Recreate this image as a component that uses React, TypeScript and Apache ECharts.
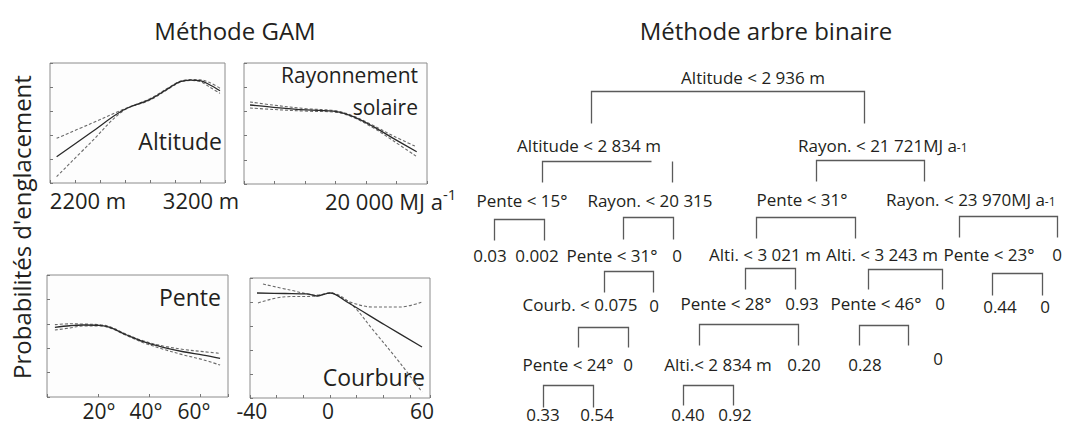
import React, { useEffect, useRef } from "react";
import * as echarts from "echarts";

// ---------- GAM panel data (x value, probability) ----------
const altitudeFit = [[2053,0.219],[2320,0.414],[2587,0.608],[2800,0.697],[2960,0.797],[3040,0.844],[3120,0.858],[3200,0.853],[3280,0.817],[3360,0.769]];
const altitudeUpper = [[2053,0.372],[2320,0.492],[2587,0.614],[2800,0.703],[2960,0.802],[3040,0.848],[3120,0.862],[3200,0.860],[3280,0.836],[3360,0.789]];
const altitudeLower = [[2053,0.053],[2320,0.331],[2587,0.603],[2800,0.691],[2960,0.792],[3040,0.840],[3120,0.854],[3200,0.846],[3280,0.797],[3360,0.747]];

const rayFit = [[10492,0.653],[12402,0.634],[15139,0.612],[17598,0.598],[18959,0.556],[20599,0.474],[22238,0.377],[24156,0.267]];
const rayUpper = [[10492,0.678],[12402,0.652],[15139,0.622],[17598,0.604],[18959,0.562],[20599,0.484],[22238,0.397],[24156,0.307]];
const rayLower = [[10492,0.628],[12402,0.616],[15139,0.602],[17598,0.592],[18959,0.550],[20599,0.464],[22238,0.357],[24156,0.227]];

const penteFit = [[3.1,0.571],[9.0,0.584],[14.2,0.590],[20.8,0.587],[24.7,0.571],[31.3,0.508],[37.8,0.453],[45.6,0.407],[53.5,0.371],[61.3,0.344],[67.9,0.317]];
const penteUpper = [[3.1,0.593],[9.0,0.600],[14.2,0.598],[20.8,0.592],[24.7,0.576],[31.3,0.513],[37.8,0.460],[45.6,0.418],[53.5,0.390],[61.3,0.372],[67.9,0.358]];
const penteLower = [[3.1,0.549],[9.0,0.566],[14.2,0.582],[20.8,0.582],[24.7,0.566],[31.3,0.503],[37.8,0.445],[45.6,0.392],[53.5,0.345],[61.3,0.305],[67.9,0.262]];

const courbFit = [[-43.8,0.875],[-27,0.871],[-13.8,0.867],[-7.8,0.85],[0,0.875],[10.2,0.80],[33,0.608],[55.2,0.425]];
const courbUpper = [[-40.2,0.95],[-24,0.90],[-7.8,0.858],[0,0.875],[12,0.80],[25.8,0.758],[42,0.758],[55.2,0.80]];
const courbLower = [[-43.2,0.792],[-28.2,0.842],[-7.8,0.85],[0,0.875],[12,0.792],[25.8,0.567],[42,0.292],[55.2,0.05]];

// ---------- Labels ----------
const titles = ["Méthode GAM", "Méthode arbre binaire"];
const yAxisTitle = "Probabilités d'englacement";
const panelNames = ["Altitude", "Rayonnement", "solaire", "Pente", "Courbure"];
const altitudeTicks = ["2200 m", "3200 m"];
const rayTick = "20 000 MJ a";
const penteTicks = ["20°", "40°", "60°"];
const courbTicks = ["-40", "0", "60"];

// ---------- Tree labels ----------
const splitLabels = [
  "Altitude < 2 936 m",
  "Altitude < 2 834 m",
  "Rayon. < 21 721MJ a{s|-1}",
  "Pente < 15°",
  "Rayon. < 20 315",
  "Pente < 31°",
  "Rayon. < 23 970MJ a{s|-1}",
  "Pente < 31°",
  "Alti. < 3 021 m",
  "Alti. < 3 243 m",
  "Pente < 23°",
  "Courb. < 0.075",
  "Pente < 28°",
  "Pente < 46°",
  "Pente < 24°",
  "Alti.< 2 834 m",
];
const leafLabels = ["0.03", "0.002", "0", "0", "0", "0.93", "0", "0.44", "0", "0", "0.20", "0.28", "0", "0.33", "0.54", "0.40", "0.92"];

// layout (positions) for tree text: [x, y, align]
const splitPos: [number, number, string][] = [
  [753, 77, "center"],
  [589, 145, "center"],
  [798, 145, "left"],
  [522, 200, "center"],
  [650, 200, "center"],
  [802, 199, "center"],
  [886, 199, "left"],
  [612, 255, "center"],
  [765, 254, "center"],
  [882, 254, "center"],
  [989, 254, "center"],
  [580, 304, "center"],
  [726, 303, "center"],
  [876, 303, "center"],
  [568, 364, "center"],
  [718, 364, "center"],
];
const leafPos: [number, number][] = [
  [490, 255], [537, 255], [677, 255], [1057, 254], [654, 305], [802, 303], [940, 303],
  [1000, 306], [1045, 306], [628, 364], [804, 364], [865, 364], [938, 358],
  [543, 414], [597, 414], [688, 414], [735, 414],
];
const brackets: number[][][] = [
  [[591,123],[591,91],[864,91],[864,123]],
  [[542,182],[542,161],[651,161]],
  [[672,161],[672,182]],
  [[816,181],[816,160],[924,160],[924,181]],
  [[494,240],[494,219],[544,219],[544,240]],
  [[623,239],[623,217],[673,217],[673,239]],
  [[756,238],[756,217],[855,217],[855,238]],
  [[959,237],[959,216],[1057,216],[1057,237]],
  [[604,292],[604,271],[653,271],[653,292]],
  [[745,289],[745,268],[795,268],[795,289]],
  [[868,289],[868,269],[942,269],[942,289]],
  [[992,295],[992,273],[1042,273],[1042,295]],
  [[578,347],[578,327],[628,327],[628,347]],
  [[699,345],[699,324],[798,324],[798,345]],
  [[859,345],[859,325],[908,325],[908,345]],
  [[543,407],[543,385],[593,385],[593,407]],
  [[683,405],[683,385],[733,385],[733,405]],
];

const FONT = "'Open Sans', 'Noto Sans', sans-serif";
const TXT = "#231f20";

function txt(text: string, x: number, y: number, size: number, align = "center", extra: any = {}) {
  return {
    type: "text",
    x, y,
    ...extra,
    style: {
      text,
      fill: TXT,
      fontFamily: FONT,
      fontSize: size,
      lineHeight: Math.round(size * 1.05),
      align,
      verticalAlign: "middle",
    },
  };
}

export default function App() {
  const ref = useRef<HTMLDivElement>(null);
  useEffect(() => {
    if (!ref.current) return;
    const chart = echarts.init(ref.current, undefined, { renderer: "svg" });

    const grids = [
      { left: 50, top: 63, width: 175, height: 120 },
      { left: 244, top: 63, width: 183, height: 121 },
      { left: 47, top: 275, width: 181, height: 122 },
      { left: 250, top: 278, width: 180, height: 120 },
    ].map((g) => ({ ...g, show: true, borderColor: "#8c8c8c", borderWidth: 1, backgroundColor: "#fdfdfd" }));

    const xDefs = [
      { min: 2000, max: 3400, interval: 200 },
      { min: 10000, max: 25000, interval: 2500 },
      { min: 0, max: 71, interval: 20 },
      { min: -48, max: 60, interval: 16 },
    ];
    const axisCommon = {
      axisLabel: { show: false },
      splitLine: { show: false },
      axisLine: { show: false, onZero: false },
      axisTick: { show: true, inside: true, length: 3, lineStyle: { color: "#777" } },
    };
    const xAxis = xDefs.map((d, i) => ({ type: "value", gridIndex: i, ...d, ...axisCommon }));
    const yAxis = grids.map((_, i) => ({ type: "value", gridIndex: i, min: 0, max: 1, interval: 0.2, ...axisCommon }));

    const sets = [
      [altitudeUpper, altitudeFit, altitudeLower],
      [rayUpper, rayFit, rayLower],
      [penteUpper, penteFit, penteLower],
      [courbUpper, courbFit, courbLower],
    ];
    const series: any[] = [];
    sets.forEach((s, i) => {
      s.forEach((data, j) => {
        series.push({
          type: "line",
          xAxisIndex: i,
          yAxisIndex: i,
          data,
          smooth: 0.35,
          symbol: "none",
          silent: true,
          lineStyle: j === 1
            ? { color: "#2a2a2a", width: 1.3 }
            : { color: "#6a6a6a", width: 1.1, type: [3, 2] },
          z: j === 1 ? 3 : 2,
        });
      });
    });

    const graphic: any[] = [];
    graphic.push(txt(titles[0], 235, 30, 24));
    graphic.push(txt(titles[1], 766, 30, 24));
    graphic.push(txt(yAxisTitle, 21, 227, 24, "center", { rotation: Math.PI / 2 }));
    graphic.push(txt(altitudeTicks[0], 88, 200, 22));
    graphic.push(txt(altitudeTicks[1], 201, 200, 22));
    graphic.push({
      type: "text", x: 325, y: 201,
      style: {
        text: rayTick + "{s|-1}", fill: TXT, fontFamily: FONT, fontSize: 22, align: "left", verticalAlign: "middle",
        rich: { s: { fontSize: 15, fontFamily: FONT, fill: TXT, verticalAlign: "top", lineHeight: 30 } },
      },
    });
    [99, 146, 194].forEach((x, i) => graphic.push(txt(penteTicks[i], x, 411, 21)));
    [252, 328, 422].forEach((x, i) => graphic.push(txt(courbTicks[i], x, 411, 21)));
    graphic.push(txt(panelNames[0], 222, 141, 23, "right"));
    graphic.push(txt(panelNames[1], 418, 75, 21, "right"));
    graphic.push(txt(panelNames[2], 418, 107, 21, "right"));
    graphic.push(txt(panelNames[3], 221, 297, 23, "right"));
    graphic.push(txt(panelNames[4], 425, 377, 23, "right"));

    brackets.forEach((pts) => {
      graphic.push({
        type: "polyline",
        shape: { points: pts.map(([x, y]) => [x + 0.5, y + 0.5]) },
        style: { stroke: "#5a5a5a", lineWidth: 1.3, fill: "none" },
      });
    });
    splitLabels.forEach((label, i) => {
      const [x, y, align] = splitPos[i];
      graphic.push({
        type: "text", x, y,
        style: {
          text: label, fill: TXT, fontFamily: FONT, fontSize: 17, align, verticalAlign: "middle",
          rich: { s: { fontSize: 12, fontFamily: FONT, fill: TXT, verticalAlign: "bottom" } },
        },
      });
    });
    leafLabels.forEach((label, i) => {
      const [x, y] = leafPos[i];
      graphic.push(txt(label, x, y, 17));
    });

    chart.setOption({
      animation: false,
      backgroundColor: "#ffffff",
      grid: grids,
      xAxis,
      yAxis,
      series,
      graphic,
    });
    return () => chart.dispose();
  }, []);

  return (
    <div
      ref={ref}
      style={{ position: "fixed", left: 0, top: 0, width: 1067, height: 424, background: "#fff" }}
    />
  );
}
